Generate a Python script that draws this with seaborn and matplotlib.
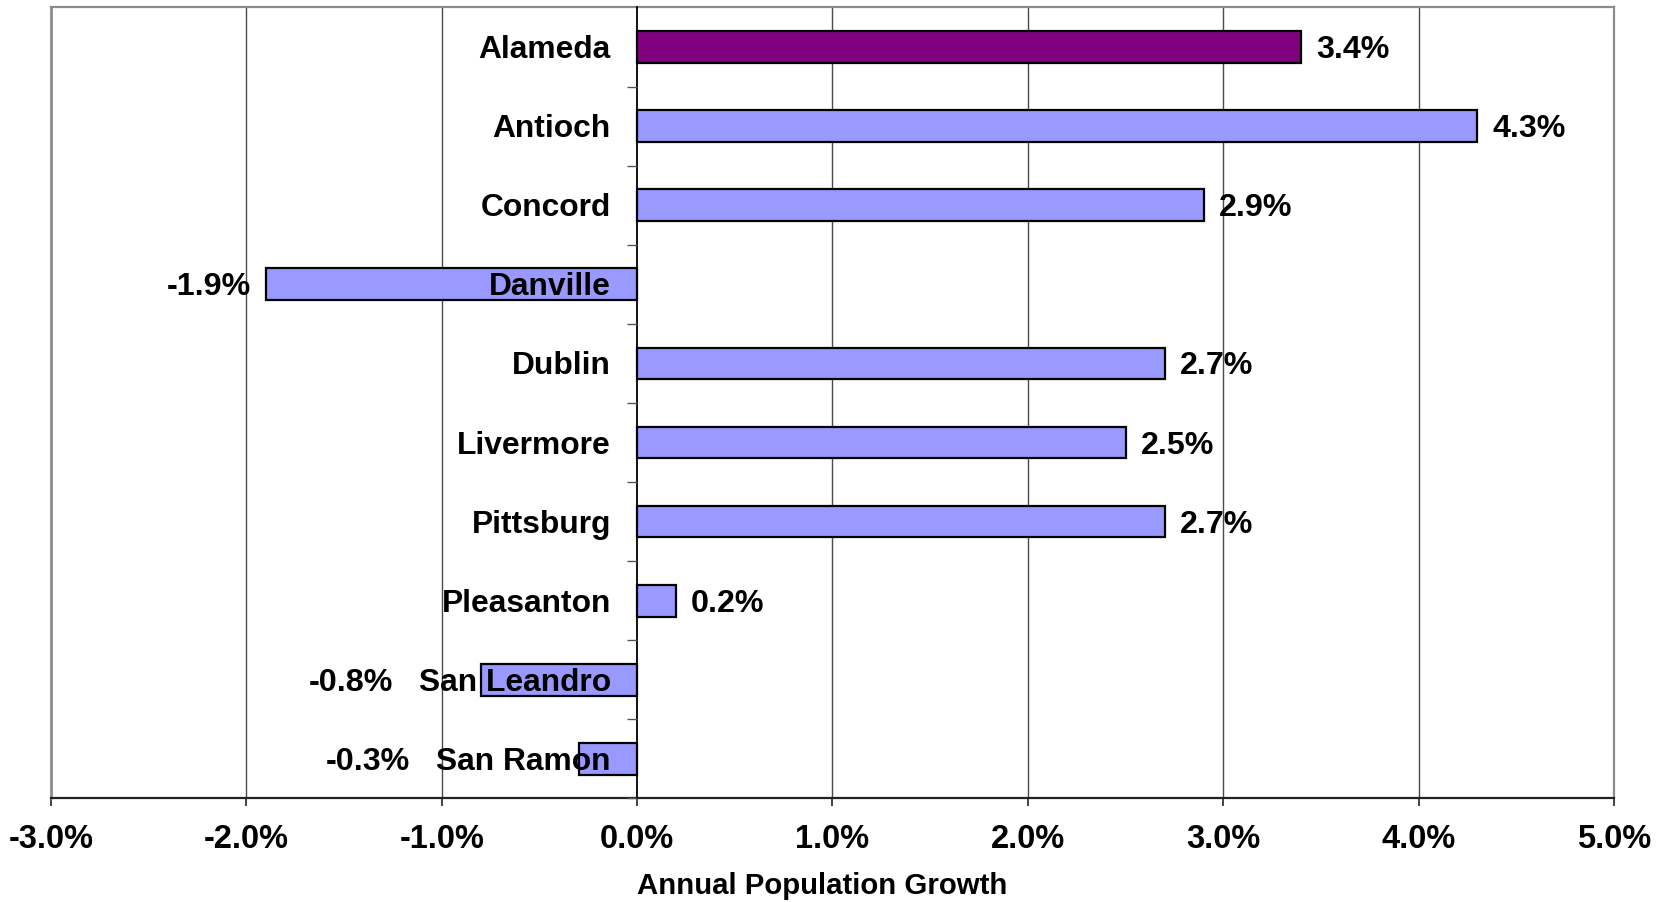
import matplotlib
matplotlib.use("Agg")
import matplotlib.pyplot as plt
import matplotlib.transforms as mtransforms
from matplotlib.ticker import FuncFormatter, FixedLocator
import seaborn as sns
import pandas as pd
import numpy as np

cities = ["Alameda", "Antioch", "Concord", "Danville", "Dublin", "Livermore",
          "Pittsburg", "Pleasanton", "San Leandro", "San Ramon"]
growth = [3.4, 4.3, 2.9, -1.9, 2.7, 2.5, 2.7, 0.2, -0.8, -0.3]
bar_colors = ["#800080"] + ["#9999FF"] * 9
x_ticks = [-3, -2, -1, 0, 1, 2, 3, 4, 5]
x_label = "Annual Population Growth"

sns.set_theme(style="white")
plt.rcParams["font.family"] = ["Liberation Sans", "DejaVu Sans"]
plt.rcParams["font.weight"] = "bold"
plt.rcParams["text.color"] = "black"
plt.rcParams["axes.labelcolor"] = "black"
plt.rcParams["xtick.color"] = "black"
plt.rcParams["ytick.color"] = "black"

df = pd.DataFrame({"city": cities, "growth": growth})

fig = plt.figure(figsize=(16.69, 9.03), dpi=100)
ax = fig.add_axes([0.0306, 0.1147, 0.9364, 0.8759])

sns.barplot(data=df, x="growth", y="city", hue="city", palette=bar_colors,
            orient="h", width=0.4, edgecolor="black", linewidth=1.6,
            saturation=1, legend=False, ax=ax, zorder=3)

ax.set_xlim(x_ticks[0], x_ticks[-1])
ax.set_ylim(len(cities) - 0.5, -0.5)

# grid lines
for xv in x_ticks[1:-1]:
    if xv != 0:
        ax.axvline(xv, color="#4a4a4a", lw=1.0, zorder=1)

# frame
for side in ["top", "right"]:
    ax.spines[side].set_color("#8c8c8c")
    ax.spines[side].set_linewidth(1.6)
ax.spines["bottom"].set_color("#222222")
ax.spines["bottom"].set_linewidth(1.6)
ax.spines["left"].set_position(("data", 0))
ax.spines["left"].set_color("black")
ax.spines["left"].set_linewidth(1.3)
ax.spines["left"].set_zorder(4)
ax.axvline(x_ticks[0], color="#8c8c8c", lw=2.0, zorder=2, clip_on=False)

# x axis
ax.set_xticks(x_ticks)
ax.xaxis.set_major_formatter(FuncFormatter(lambda v, p: f"{v:.1f}%"))
ax.tick_params(axis="x", which="major", direction="out", length=6, width=1.2,
               color="#222222", pad=12, labelsize=23.5, bottom=True)
for t in ax.get_xticklabels():
    t.set_fontweight("bold")
ax.set_xlabel(x_label, fontsize=21.2, fontweight="bold", labelpad=12)
ax.xaxis.label.set_x(0.4935)

# y axis: category labels next to zero line, ticks at boundaries
ax.set_ylabel("")
ax.yaxis.set_major_locator(FixedLocator(np.arange(len(cities))))
ax.set_yticklabels(cities)
ax.yaxis.set_minor_locator(FixedLocator(np.arange(len(cities)) + 0.5))
ax.tick_params(axis="y", which="major", length=0, pad=19, labelsize=22.9, left=True)
ax.tick_params(axis="y", which="minor", length=7, width=1.0, color="#555555",
               direction="out", left=True)
shift = mtransforms.ScaledTranslation(0, -2 / 100, fig.dpi_scale_trans)
for tk in ax.yaxis.get_major_ticks():
    tk.label1.set_fontweight("bold")
    tk.label1.set_verticalalignment("center")
    tk.label1.set_transform(tk.label1.get_transform() + shift)
ax.yaxis.set_zorder(5)

# value labels
fig.canvas.draw()
renderer = fig.canvas.get_renderer()
inv = ax.transData.inverted()
ylabels = ax.get_yticklabels()
for i, v in enumerate(growth):
    txt = f"{v:.1f}%"
    if v >= 0:
        tr = mtransforms.offset_copy(ax.transData, fig=fig, x=15, y=-2, units="dots")
        ax.text(v, i, txt, transform=tr, ha="left", va="center",
                fontsize=23.2, fontweight="bold", zorder=6)
    else:
        lab_x0 = ylabels[i].get_window_extent(renderer).x0
        lab_data = inv.transform((lab_x0, 0))[0]
        if v < lab_data:
            xpos, pad = v, 15
        else:
            xpos, pad = lab_data, 26
        tr = mtransforms.offset_copy(ax.transData, fig=fig, x=-pad, y=-2, units="dots")
        ax.text(xpos, i, txt, transform=tr, ha="right", va="center",
                fontsize=23.2, fontweight="bold", zorder=6)

fig.savefig("out.png", dpi=100)
